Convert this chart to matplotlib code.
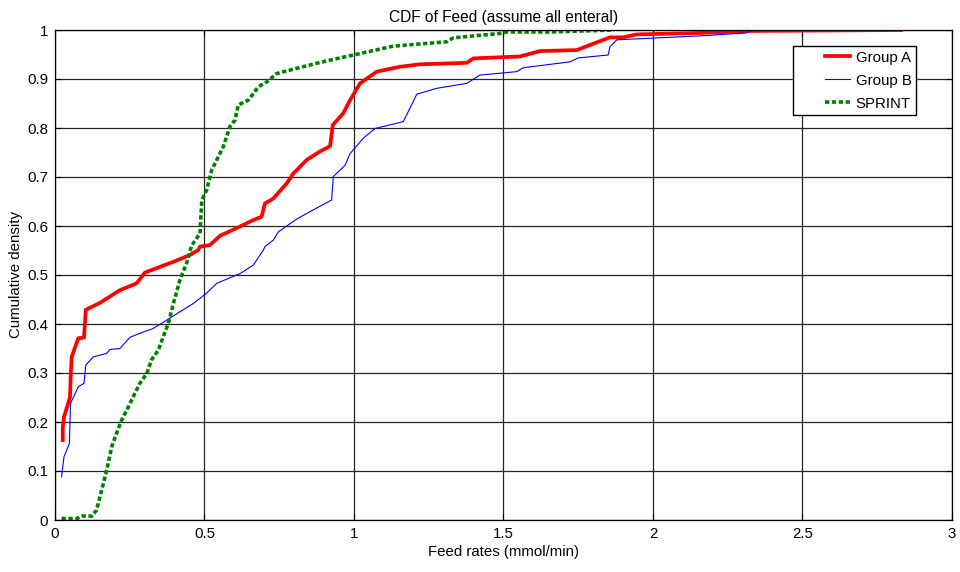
import matplotlib
matplotlib.use("Agg")
import matplotlib.pyplot as plt
from matplotlib.legend_handler import HandlerLine2D

plt.rcParams['font.family'] = ['Liberation Sans', 'DejaVu Sans']

# Empirical CDF traces of feed rate (mmol/min) for each cohort
group_a_x = [0.026, 0.026, 0.030, 0.050, 0.053, 0.056, 0.078, 0.097, 0.103, 0.150,
             0.217, 0.273, 0.301, 0.396, 0.452, 0.479, 0.485, 0.518, 0.552, 0.619,
             0.663, 0.691, 0.702, 0.730, 0.775, 0.797, 0.842, 0.886, 0.920, 0.929,
             0.964, 0.987, 1.020, 1.076, 1.154, 1.221, 1.377, 1.399, 1.555, 1.622,
             1.745, 1.856, 1.900, 1.945, 2.157, 2.320, 2.830]
group_a_y = [0.163, 0.190, 0.210, 0.250, 0.300, 0.333, 0.371, 0.372, 0.429, 0.443,
             0.469, 0.483, 0.505, 0.527, 0.541, 0.551, 0.558, 0.561, 0.580, 0.599,
             0.612, 0.619, 0.646, 0.656, 0.687, 0.707, 0.735, 0.752, 0.763, 0.806,
             0.830, 0.857, 0.891, 0.915, 0.925, 0.930, 0.933, 0.942, 0.946, 0.957,
             0.959, 0.985, 0.985, 0.991, 0.994, 0.998, 1.000]

group_b_x = [0.022, 0.030, 0.048, 0.052, 0.078, 0.097, 0.103, 0.128, 0.173, 0.184,
             0.217, 0.251, 0.284, 0.329, 0.374, 0.418, 0.463, 0.507, 0.541, 0.619,
             0.663, 0.697, 0.702, 0.730, 0.747, 0.808, 0.864, 0.925, 0.931, 0.970,
             0.987, 1.031, 1.070, 1.165, 1.210, 1.277, 1.377, 1.421, 1.544, 1.566,
             1.722, 1.750, 1.850, 1.856, 1.879, 2.157, 2.313, 2.330]
group_b_y = [0.088, 0.129, 0.156, 0.238, 0.272, 0.279, 0.316, 0.333, 0.340, 0.348,
             0.350, 0.373, 0.381, 0.391, 0.408, 0.425, 0.442, 0.463, 0.483, 0.503,
             0.520, 0.551, 0.558, 0.571, 0.588, 0.614, 0.633, 0.653, 0.701, 0.724,
             0.748, 0.779, 0.799, 0.813, 0.869, 0.881, 0.891, 0.908, 0.915, 0.923,
             0.935, 0.943, 0.949, 0.966, 0.980, 0.988, 0.994, 1.000]

sprint_x = [0.022, 0.073, 0.089, 0.123, 0.139, 0.156, 0.173, 0.190, 0.206, 0.223,
            0.240, 0.262, 0.284, 0.307, 0.323, 0.346, 0.362, 0.379, 0.396, 0.418,
            0.440, 0.457, 0.485, 0.491, 0.507, 0.524, 0.546, 0.563, 0.585, 0.602,
            0.613, 0.647, 0.680, 0.708, 0.741, 0.797, 0.875, 0.931, 0.998, 1.131,
            1.310, 1.332, 1.488, 1.511, 1.656, 1.870]
sprint_y = [0.003, 0.003, 0.008, 0.008, 0.020, 0.061, 0.102, 0.150, 0.177, 0.204,
            0.224, 0.252, 0.279, 0.299, 0.327, 0.347, 0.374, 0.401, 0.442, 0.490,
            0.524, 0.560, 0.585, 0.653, 0.673, 0.714, 0.741, 0.762, 0.803, 0.816,
            0.847, 0.857, 0.884, 0.894, 0.911, 0.920, 0.932, 0.940, 0.949, 0.967,
            0.976, 0.984, 0.993, 0.996, 0.996, 1.000]

x_ticks = [0, 0.5, 1, 1.5, 2, 2.5, 3]
x_tick_labels = ['0', '0.5', '1', '1.5', '2', '2.5', '3']
y_ticks = [0, 0.1, 0.2, 0.3, 0.4, 0.5, 0.6, 0.7, 0.8, 0.9, 1]
y_tick_labels = ['0', '0.1', '0.2', '0.3', '0.4', '0.5', '0.6', '0.7', '0.8', '0.9', '1']


class InsetLineHandler(HandlerLine2D):
    """Legend line sample drawn only in the right part of the handle slot."""

    def __init__(self, gap_frac=0.52, **kw):
        super().__init__(**kw)
        self.gap_frac = gap_frac

    def create_artists(self, legend, orig_handle, xdescent, ydescent,
                       width, height, fontsize, trans):
        gap = width * self.gap_frac
        return super().create_artists(legend, orig_handle, xdescent - gap,
                                      ydescent, width - gap, height,
                                      fontsize, trans)


fig = plt.figure(figsize=(9.6, 5.72), dpi=100)
ax = fig.add_axes([55 / 960, 52 / 572, 897 / 960, 490 / 572])

l_a, = ax.plot(group_a_x, group_a_y, color='#ff0000', lw=2.7, label='Group A',
               solid_joinstyle='round')
l_b, = ax.plot(group_b_x, group_b_y, color='#0000ff', lw=0.8, label='Group B')
l_s, = ax.plot(sprint_x, sprint_y, color='#008000', lw=2.6,
               linestyle=(0, (1.2, 0.7)), label='SPRINT')

ax.set_xlim(0, 3)
ax.set_ylim(0, 1)
ax.set_xticks(x_ticks)
ax.set_xticklabels(x_tick_labels)
ax.set_yticks(y_ticks)
ax.set_yticklabels(y_tick_labels)
ax.grid(True, color='0.15', lw=0.9, linestyle='-')
ax.set_axisbelow(True)
ax.tick_params(direction='in', top=True, right=True, length=4, width=0.8,
               labelsize=10.8, pad=5, colors='black')
for s in ax.spines.values():
    s.set_linewidth(0.9)
    s.set_color('black')

ax.set_title('CDF of Feed (assume all enteral)', fontsize=11.2, pad=6)
ax.set_xlabel('Feed rates (mmol/min)', fontsize=10.8, labelpad=3)
ax.set_ylabel('Cumulative density', fontsize=10.8, labelpad=3)

handler = InsetLineHandler(gap_frac=0.52)
leg = ax.legend(loc='upper right', bbox_to_anchor=(0.96, 0.967), fontsize=10.8,
                frameon=True, fancybox=False, edgecolor='black', framealpha=1,
                handlelength=3.5, borderpad=0.3, labelspacing=0.6,
                handletextpad=0.35, borderaxespad=0,
                handler_map={l_a: handler, l_b: handler, l_s: handler})
leg.get_frame().set_linewidth(1.0)

fig.savefig('out.png', dpi=100, facecolor='white')
